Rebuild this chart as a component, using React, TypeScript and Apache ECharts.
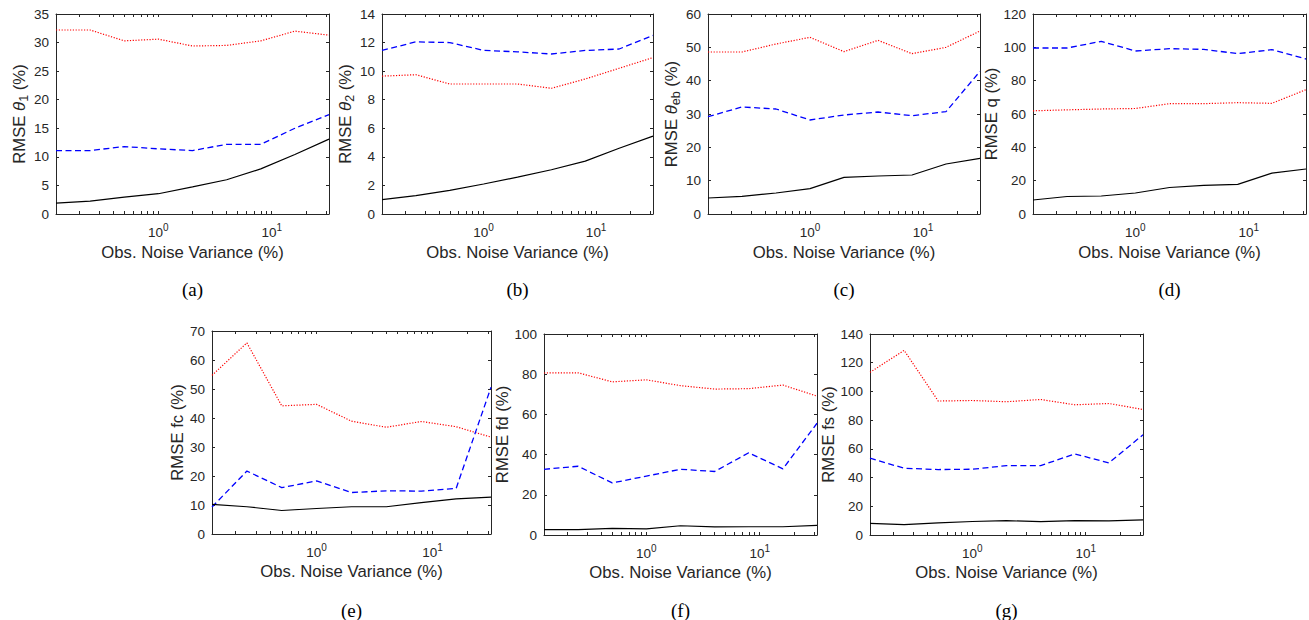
import React, { useEffect, useRef } from 'react';
import * as echarts from 'echarts';

// Observation noise variance (%) — shared x values
const xValues = [0.125, 0.25, 0.5, 1, 2, 4, 8, 16, 32];
const X_MIN = 0.125;
const X_MAX = 32;
const xTickValues = [0.2, 0.3, 0.4, 0.5, 0.6, 0.7, 0.8, 0.9, 1, 2, 3, 4, 5, 6, 7, 8, 9, 10, 20, 30];
const xLabelValues = [1, 10];

// (a) RMSE theta_1
const aBlack = [1.9, 2.25, 2.95, 3.55, 4.75, 6.0, 7.9, 10.4, 13.1];
const aBlue = [11.1, 11.1, 11.8, 11.4, 11.1, 12.2, 12.2, 15.0, 17.4];
const aRed = [32.2, 32.2, 30.3, 30.6, 29.4, 29.5, 30.3, 32.0, 31.3];
// (b) RMSE theta_2
const bBlack = [1.0, 1.28, 1.66, 2.1, 2.58, 3.1, 3.7, 4.6, 5.45];
const bBlue = [11.45, 12.05, 12.0, 11.45, 11.35, 11.2, 11.45, 11.55, 12.5];
const bRed = [9.65, 9.75, 9.1, 9.1, 9.1, 8.8, 9.45, 10.2, 10.95];
// (c) RMSE theta_eb
const cBlack = [4.8, 5.3, 6.3, 7.6, 11.0, 11.4, 11.7, 15.0, 16.7];
const cBlue = [29.2, 32.1, 31.5, 28.2, 29.7, 30.6, 29.5, 30.7, 42.8];
const cRed = [48.6, 48.6, 51.0, 53.0, 48.7, 52.1, 48.1, 50.0, 54.9];
// (d) RMSE q
const dBlack = [8.4, 10.5, 10.8, 12.6, 15.9, 17.2, 17.8, 24.5, 27.0];
const dBlue = [99.6, 99.6, 103.6, 97.8, 99.2, 98.8, 96.2, 98.6, 93.0];
const dRed = [61.9, 62.5, 63.0, 63.3, 66.2, 66.2, 66.8, 66.4, 74.6];
// (e) RMSE fc
const eBlack = [10.2, 9.4, 8.1, 8.8, 9.4, 9.4, 10.8, 12.1, 12.7];
const eBlue = [9.3, 21.7, 16.0, 18.3, 14.3, 14.9, 14.8, 15.7, 50.6];
const eRed = [54.7, 65.9, 44.2, 44.7, 38.9, 36.8, 38.8, 37.0, 33.4];
// (f) RMSE fd
const fBlack = [2.7, 2.7, 3.3, 3.0, 4.6, 4.0, 4.1, 4.1, 4.8];
const fBlue = [32.7, 34.2, 25.9, 29.3, 32.7, 31.6, 40.9, 32.9, 55.6];
const fRed = [80.6, 80.7, 76.2, 77.2, 74.3, 72.6, 72.8, 74.6, 69.1];
// (g) RMSE fs
const gBlack = [8.1, 7.2, 8.4, 9.4, 10.0, 9.3, 10.0, 9.8, 10.5];
const gBlue = [53.5, 46.5, 45.6, 45.8, 48.3, 48.3, 56.5, 50.2, 69.8];
const gRed = [113.3, 128.6, 93.3, 93.7, 92.8, 94.4, 90.7, 91.6, 87.4];

const yMaxes = [35, 14, 60, 120, 70, 100, 140];
const yIntervals = [5, 2, 10, 20, 10, 20, 20];
const captions = ['(a)', '(b)', '(c)', '(d)', '(e)', '(f)', '(g)'];
const yLabelVars = ['θ', 'θ', 'θ', 'q', 'fc', 'fd', 'fs'];
const yLabelSubs = ['1', '2', 'eb', '', '', '', ''];
const xLabel = 'Obs. Noise Variance (%)';

const blackSeries = [aBlack, bBlack, cBlack, dBlack, eBlack, fBlack, gBlack];
const blueSeries = [aBlue, bBlue, cBlue, dBlue, eBlue, fBlue, gBlue];
const redSeries = [aRed, bRed, cRed, dRed, eRed, fRed, gRed];

// layout (pixels)
const layout = [
  { left: 56, top: 14, width: 273, height: 200, yGap: 26, xGap: 30, capY: 289 },
  { left: 382, top: 14, width: 271, height: 200, yGap: 26, xGap: 30, capY: 289 },
  { left: 708, top: 14, width: 272, height: 200, yGap: 26, xGap: 30, capY: 289 },
  { left: 1033, top: 14, width: 273, height: 200, yGap: 27, xGap: 30, capY: 289 },
  { left: 212, top: 331, width: 279, height: 203, yGap: 21.5, xGap: 29, capY: 610 },
  { left: 544, top: 334, width: 273, height: 201, yGap: 27, xGap: 29, capY: 610 },
  { left: 870, top: 334, width: 273, height: 201, yGap: 27, xGap: 29, capY: 610 },
];

const AX = '#262626';
const SANS = 'Liberation Sans, Arial, Helvetica, sans-serif';
const SERIF = 'Liberation Serif, Times New Roman, serif';
const NAME_SIZE = 16.7;

export default function App() {
  const ref = useRef<HTMLDivElement>(null);

  useEffect(() => {
    document.body.style.margin = '0';
    const chart = echarts.init(ref.current as HTMLDivElement, null, { renderer: 'svg' });

    const grid: any[] = [];
    const xAxis: any[] = [];
    const yAxis: any[] = [];
    const series: any[] = [];
    const graphic: any[] = [];

    const axisLine = { show: true, onZero: false, lineStyle: { color: AX, width: 1 } };
    const tick = { show: true, inside: true, length: 3, lineStyle: { color: AX, width: 1 } };

    layout.forEach((g, i) => {
      grid.push({ left: g.left, top: g.top, width: g.width, height: g.height, containLabel: false });

      const xBase = {
        type: 'log',
        logBase: 10,
        min: X_MIN,
        max: X_MAX,
        gridIndex: i,
        splitLine: { show: false },
        minorTick: { show: false },
        axisLine,
      };
      xAxis.push({
        ...xBase,
        position: 'bottom',
        axisTick: { ...tick, customValues: xTickValues },
        axisLabel: {
          customValues: xLabelValues,
          margin: 8,
          formatter: (v: number) => `{b|10}{p|${Math.round(Math.log10(v))}}`,
          rich: {
            b: { fontFamily: SANS, fontSize: 13.5, color: AX, lineHeight: 20, verticalAlign: 'middle' },
            p: { fontFamily: SANS, fontSize: 10, color: AX, lineHeight: 10, verticalAlign: 'top' },
          },
        },
        name: xLabel,
        nameLocation: 'middle',
        nameGap: g.xGap,
        nameTextStyle: { fontFamily: SANS, fontSize: NAME_SIZE, color: AX, lineHeight: 16 },
      });
      xAxis.push({
        ...xBase,
        position: 'top',
        axisTick: { ...tick, customValues: xTickValues },
        axisLabel: { show: false },
      });

      const yBase = {
        type: 'value',
        gridIndex: i,
        min: 0,
        max: yMaxes[i],
        interval: yIntervals[i],
        splitLine: { show: false },
        axisLine,
        axisTick: tick,
      };
      const sub = yLabelSubs[i];
      const isTheta = yLabelVars[i] === 'θ';
      const yName = isTheta
        ? `{m|RMSE }{t|θ}{s|${sub}}{m| (%)}`
        : `{m|RMSE ${yLabelVars[i]} (%)}`;
      yAxis.push({
        ...yBase,
        position: 'left',
        axisLabel: { margin: 7, fontFamily: SANS, fontSize: 13.5, color: AX },
        name: yName,
        nameLocation: 'middle',
        nameRotate: 90,
        nameGap: g.yGap,
        nameTextStyle: {
          rich: {
            m: { fontFamily: SANS, fontSize: NAME_SIZE, color: AX, lineHeight: 22, verticalAlign: 'middle' },
            t: { fontFamily: SANS, fontSize: NAME_SIZE, fontStyle: 'italic', color: AX, lineHeight: 22, verticalAlign: 'middle' },
            s: { fontFamily: SANS, fontSize: 12.5, color: AX, lineHeight: 12, verticalAlign: 'bottom' },
          },
        },
      });
      yAxis.push({
        ...yBase,
        position: 'right',
        axisLabel: { show: false },
      });

      const xi = i * 2;
      const mk = (arr: number[]) => xValues.map((x, k) => [x, arr[k]]);
      series.push({
        type: 'line',
        xAxisIndex: xi,
        yAxisIndex: xi,
        data: mk(redSeries[i]),
        symbol: 'none',
        lineStyle: { color: '#ff0000', width: 1.2, type: [1.2, 1.6] },
      });
      series.push({
        type: 'line',
        xAxisIndex: xi,
        yAxisIndex: xi,
        data: mk(blueSeries[i]),
        symbol: 'none',
        lineStyle: { color: '#0000ff', width: 1.3, type: [6, 3.5] },
      });
      series.push({
        type: 'line',
        xAxisIndex: xi,
        yAxisIndex: xi,
        data: mk(blackSeries[i]),
        symbol: 'none',
        lineStyle: { color: '#000000', width: 1.2, type: 'solid' },
      });

      graphic.push({
        type: 'text',
        x: g.left + g.width / 2,
        y: g.capY,
        style: {
          text: captions[i],
          fontFamily: SERIF,
          fontSize: 19,
          fill: '#000',
          align: 'center',
          verticalAlign: 'middle',
        },
      });
    });

    chart.setOption({
      animation: false,
      backgroundColor: '#ffffff',
      grid,
      xAxis,
      yAxis,
      series,
      graphic,
    });

    return () => chart.dispose();
  }, []);

  return <div ref={ref} style={{ width: 1309, height: 620 }} />;
}
